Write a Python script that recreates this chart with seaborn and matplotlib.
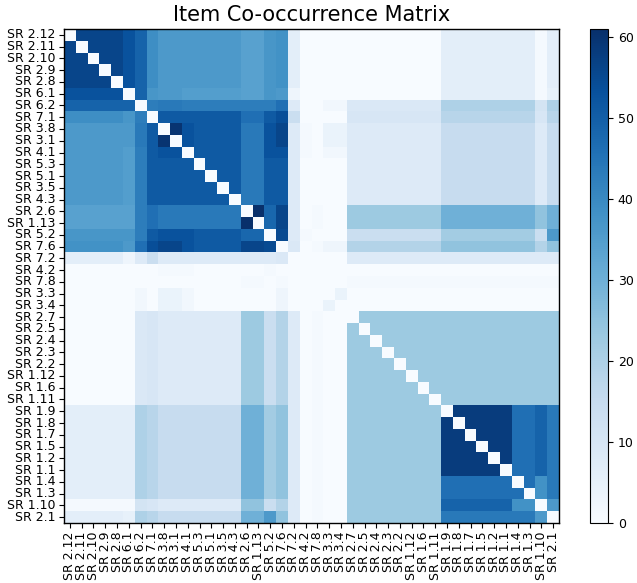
import numpy as np
import pandas as pd
import matplotlib
matplotlib.use("Agg")
import matplotlib.pyplot as plt
import seaborn as sns

# items in display order, grouped where the co-occurrence counts are equal
item_groups = [
    ["SR 2.12", "SR 2.11", "SR 2.10", "SR 2.9", "SR 2.8"],
    ["SR 6.1"],
    ["SR 6.2"],
    ["SR 7.1"],
    ["SR 3.8", "SR 3.1"],
    ["SR 4.1"],
    ["SR 5.3", "SR 5.1", "SR 3.5", "SR 4.3"],
    ["SR 2.6", "SR 1.13"],
    ["SR 5.2"],
    ["SR 7.6"],
    ["SR 7.2"],
    ["SR 4.2"],
    ["SR 7.8"],
    ["SR 3.3"],
    ["SR 3.4"],
    ["SR 2.7", "SR 2.5", "SR 2.4", "SR 2.3", "SR 2.2", "SR 1.12", "SR 1.6", "SR 1.11"],
    ["SR 1.9", "SR 1.8", "SR 1.7", "SR 1.5", "SR 1.2", "SR 1.1"],
    ["SR 1.4"],
    ["SR 1.3"],
    ["SR 1.10"],
    ["SR 2.1"],
]

# co-occurrence counts between groups (lower triangle, row by row)
block_counts = [
    [56],
    [53, 0],
    [49, 49, 0],
    [39, 37, 43, 0],
    [36, 36, 44, 51, 60],
    [36, 35, 43, 51, 53, 0],
    [36, 35, 43, 51, 51, 51, 51],
    [34, 34, 43, 46, 44, 44, 44, 61],
    [37, 37, 43, 51, 53, 53, 51, 48, 0],
    [38, 36, 46, 54, 56, 53, 51, 56, 55, 0],
    [6, 3, 8, 14, 8, 8, 8, 8, 8, 9, 0],
    [0, 0, 0, 0, 1, 1, 0, 0, 1, 0, 0, 0],
    [0, 0, 0, 0, 0, 0, 0, 1, 0, 1, 0, 0, 0],
    [0, 0, 2, 0, 4, 2, 0, 0, 0, 3, 0, 0, 0, 0],
    [0, 0, 2, 0, 4, 2, 0, 0, 0, 3, 0, 0, 0, 4, 0],
    [0, 0, 9, 10, 8, 8, 8, 23, 14, 19, 8, 0, 1, 0, 0, 23],
    [6, 6, 20, 18, 15, 15, 15, 30, 22, 25, 8, 0, 1, 0, 0, 23, 58],
    [6, 6, 20, 18, 15, 15, 15, 30, 22, 25, 8, 0, 1, 0, 0, 23, 46, 0],
    [6, 6, 20, 18, 15, 15, 15, 30, 22, 25, 8, 0, 1, 0, 0, 23, 46, 46, 0],
    [1, 1, 11, 10, 8, 8, 8, 25, 14, 19, 8, 0, 1, 0, 0, 23, 49, 38, 38, 0],
    [6, 5, 20, 18, 15, 15, 15, 30, 36, 25, 8, 0, 1, 0, 0, 23, 44, 44, 44, 36, 0],
]

labels = [item for group in item_groups for item in group]
group_of = [g for g, group in enumerate(item_groups) for _ in group]

n = len(labels)
matrix = np.zeros((n, n))
for i in range(n):
    for j in range(n):
        gi, gj = group_of[i], group_of[j]
        hi, lo = max(gi, gj), min(gi, gj)
        matrix[i, j] = block_counts[hi][lo]
np.fill_diagonal(matrix, 0)

co_df = pd.DataFrame(matrix, index=labels, columns=labels)

fig = plt.figure(figsize=(6.37, 5.83), dpi=100)
ax = fig.add_axes([64 / 637, 60 / 583, 495 / 637, 494 / 583])
cax = fig.add_axes([590 / 637, 60 / 583, 18 / 637, 494 / 583])

sns.heatmap(
    co_df, cmap="Blues", vmin=0, ax=ax, cbar_ax=cax,
    xticklabels=True, yticklabels=True,
)
for spine in ax.spines.values():
    spine.set_visible(True)
    spine.set_linewidth(1.0)
ax.collections[0].colorbar.outline.set_linewidth(0.8)
ax.tick_params(axis="both", length=3.5, labelsize=9, pad=2.5)
ax.set_xticklabels(labels, rotation=90)
ax.set_yticklabels(labels, rotation=0)
cax.tick_params(labelsize=9)
ax.set_title("Item Co-occurrence Matrix", fontsize=15)

fig.savefig("out.png", dpi=100)
plt.close()
